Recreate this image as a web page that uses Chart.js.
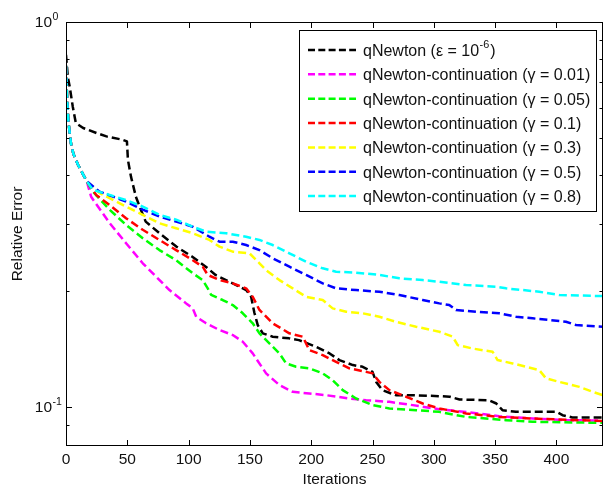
<!DOCTYPE html>
<html><head><meta charset="utf-8">
<script src="https://cdn.jsdelivr.net/npm/chart.js@4.4.0/dist/chart.umd.min.js"></script>
<style>html,body{margin:0;padding:0;background:#fff;}#wrap{width:604px;height:487px;position:relative}</style>
</head><body><div id="wrap"><canvas id="c"></canvas></div>
<script>
// ---- data (iterations, relative error) ----
const itBlack  = [0,1.5,3,5.5,8,14,25,33,46,49.7,50.5,53,57,61,65,76,90,103,114,122,136,147,151,153.7,156.4,160.5,168.6,182,190,204,215,223,234,242,250,253,258,269,283,304,313,321,345,351,356,367,400,405,413,438];
const errBlack = [0.822,0.72,0.68,0.604,0.547,0.531,0.515,0.505,0.495,0.49,0.439,0.397,0.352,0.326,0.3035,0.2836,0.2614,0.2461,0.2318,0.2207,0.2099,0.2016,0.1937,0.1758,0.1636,0.1557,0.1526,0.1511,0.1495,0.1437,0.1381,0.1327,0.1288,0.1275,0.1237,0.1165,0.1109,0.1076,0.1076,0.107,0.1066,0.1049,0.1044,0.1024,0.0984,0.0974,0.0974,0.0955,0.0942,0.0942];

const itMag  = [0,1,2,4,6,10,14,17,20.5,35.5,49,62.6,73.5,84.4,98,103.4,106.2,114.3,125.2,136,144.2,152.3,163.2,174.1,184.9,198.5,212.2,231.1,244.8,263.8,282.8,304.5,326.3,353.4,380.6,407.8,438];
const errMag = [0.77,0.62,0.55,0.485,0.455,0.425,0.402,0.386,0.352,0.301,0.2667,0.2366,0.2184,0.2016,0.1862,0.1807,0.1719,0.1653,0.1588,0.1541,0.1481,0.1381,0.1226,0.1143,0.1098,0.1087,0.1076,0.1055,0.1044,0.1034,0.1014,0.0989,0.0973,0.0949,0.0936,0.0927,0.0925];

const itGreen  = [0,1,2,4,6,10,14,17,21.9,35.5,49,62.6,76.2,89.8,103.4,111.5,115.6,118.4,127.8,136,144.2,152.3,157.8,165.9,174.1,179.5,187.7,198.5,209.4,217.5,225.7,236.6,250.1,263.8,285.5,304.5,326.3,358.9,380.6,438];
const errGreen = [0.77,0.62,0.55,0.485,0.455,0.425,0.402,0.386,0.363,0.326,0.2975,0.2748,0.256,0.241,0.2229,0.214,0.2037,0.1958,0.190,0.1844,0.1755,0.1653,0.1557,0.1466,0.1381,0.1301,0.1275,0.1263,0.1226,0.1177,0.1109,0.1055,0.1014,0.0994,0.0984,0.0974,0.0945,0.0927,0.0918,0.0912];

const itRed  = [0,1,2,4,6,10,14,17,24.6,35.5,49,62.6,76.2,89.8,103.4,111.5,115.6,125.2,136,146.9,152.3,157.8,168.6,182.2,193.1,198.5,209.4,220.3,231.1,244.8,250.1,255.6,263.8,277.4,290.9,304.5,326.3,353.4,380.6,438];
const errRed = [0.77,0.62,0.55,0.485,0.455,0.425,0.402,0.386,0.356,0.3354,0.3097,0.289,0.272,0.256,0.241,0.2318,0.2207,0.214,0.2099,0.2037,0.1937,0.179,0.1653,0.1557,0.1526,0.1408,0.1367,0.1313,0.1263,0.1237,0.1226,0.1165,0.1109,0.1066,0.1024,0.0994,0.0965,0.0945,0.0936,0.0922];

const itYellow  = [0,1,2,4,6,10,14,17,27.4,49,62.6,76.2,89.8,103.4,117,125.2,136,149.6,157.8,163.2,174.1,184.9,195.8,209.4,217.5,228.5,242,255.6,269.2,285.5,304.5,315.4,319.5,331.7,348,352,364.3,386,391.5,402.4,418.7,429.5,438];
const errYellow = [0.77,0.62,0.55,0.485,0.455,0.425,0.402,0.386,0.36,0.332,0.316,0.3005,0.2917,0.2831,0.272,0.2614,0.2536,0.2512,0.2366,0.227,0.214,0.2037,0.1937,0.190,0.1807,0.1771,0.1755,0.1719,0.1668,0.162,0.1572,0.1526,0.1451,0.1422,0.1394,0.1327,0.1301,0.125,0.119,0.1165,0.1131,0.1098,0.1076];

const itBlue  = [0,1,2,4,6,10,14,17,27.4,49,62.6,76.2,89.8,103.4,117,125.2,136,146.9,157.8,168.6,182.2,195.8,209.4,220.3,236.6,255.6,271.9,290.9,304.5,312.6,318.1,334.4,353.4,367.1,380.6,407.8,416,438];
const errBlue = [0.77,0.62,0.55,0.485,0.455,0.425,0.402,0.386,0.363,0.342,0.326,0.313,0.3035,0.2944,0.2773,0.2692,0.2692,0.2639,0.256,0.2438,0.2318,0.2207,0.2099,0.2037,0.2016,0.1996,0.1957,0.190,0.1862,0.1844,0.179,0.1771,0.1755,0.1719,0.1703,0.1668,0.1636,0.162];

const itCyan  = [0,1,2,4,6,10,14,17,21.9,35.5,49.1,62.6,76.2,89.8,103.4,114.3,130.6,146.9,157.8,168.6,182.2,195.8,209.4,220.3,236.6,255.6,271.9,290.9,304.5,326.3,350.8,358.9,386,402.4,438];
const errCyan = [0.77,0.62,0.55,0.485,0.455,0.425,0.402,0.386,0.367,0.356,0.345,0.332,0.316,0.307,0.2944,0.2858,0.2831,0.2773,0.272,0.2639,0.2512,0.2388,0.2296,0.225,0.2237,0.2207,0.2163,0.214,0.2119,0.2078,0.2057,0.2037,0.1996,0.1957,0.1945];

const seriesNames = ['qNewton (\u03b5 = 10', 'qNewton-continuation (\u03b3 = 0.01)', 'qNewton-continuation (\u03b3 = 0.05)', 'qNewton-continuation (\u03b3 = 0.1)', 'qNewton-continuation (\u03b3 = 0.3)', 'qNewton-continuation (\u03b3 = 0.5)', 'qNewton-continuation (\u03b3 = 0.8)'];
const xTicks = [0,50,100,150,200,250,300,350,400];
const yMajor = [{v:1, exp:'0'}, {v:0.1, exp:'-1'}];
const yMinor = [0.09,0.2,0.3,0.4,0.5,0.6,0.7,0.8,0.9];
const xLabel = 'Iterations';
const yLabel = 'Relative Error';

// ---- styling ----
const colors = ['#000000','#ff00ff','#00ff00','#ff0000','#ffff00','#0000ff','#00ffff'];
const FONT = '"Liberation Sans", Arial, Helvetica, sans-serif';
const FS = 15.5;
const LFS = 16;
const TXT = '#111';
const DASH = [8,4];

const its = [itBlack,itMag,itGreen,itRed,itYellow,itBlue,itCyan];
const errs = [errBlack,errMag,errGreen,errRed,errYellow,errBlue,errCyan];
const datasets = its.map((it,k)=>({
  label: seriesNames[k],
  data: it.map((x,i)=>({x:x, y:errs[k][i]})),
  borderColor: colors[k], backgroundColor: colors[k],
  borderWidth: 2.5, borderDash: DASH, pointRadius: 0, tension: 0, fill: false,
  borderCapStyle: 'butt', borderJoinStyle: 'round',
  order: 6-k
}));

const decor = {
  id: 'decor',
  afterDatasetsDraw(chart){
    const ctx = chart.ctx, a = chart.chartArea;
    const xs = chart.scales.x, ys = chart.scales.y;
    ctx.save();
    ctx.strokeStyle = '#000'; ctx.lineWidth = 1;
    ctx.strokeRect(a.left+0.5, a.top+0.5, a.right-a.left-1, a.bottom-a.top-1);
    ctx.beginPath();
    xTicks.forEach(t=>{
      const px = Math.round(xs.getPixelForValue(t))+0.5;
      ctx.moveTo(px, a.bottom); ctx.lineTo(px, a.bottom-6);
      ctx.moveTo(px, a.top); ctx.lineTo(px, a.top+6);
    });
    yMajor.forEach(t=>{
      const py = Math.round(ys.getPixelForValue(t.v))+0.5;
      ctx.moveTo(a.left, py); ctx.lineTo(a.left+6, py);
      ctx.moveTo(a.right, py); ctx.lineTo(a.right-6, py);
    });
    yMinor.forEach(v=>{
      const py = Math.round(ys.getPixelForValue(v))+0.5;
      ctx.moveTo(a.left, py); ctx.lineTo(a.left+3.5, py);
      ctx.moveTo(a.right, py); ctx.lineTo(a.right-3.5, py);
    });
    ctx.stroke();
    ctx.fillStyle = TXT;
    ctx.font = FS+'px '+FONT;
    ctx.textAlign = 'center'; ctx.textBaseline = 'alphabetic';
    xTicks.forEach(t=>{ ctx.fillText(String(t), xs.getPixelForValue(t), a.bottom+17.5); });
    yMajor.forEach(t=>{
      const py = ys.getPixelForValue(t.v);
      ctx.font = FS+'px '+FONT; ctx.textAlign = 'right';
      ctx.fillText('10', 52, py+4.5);
      ctx.font = (FS*0.68)+'px '+FONT; ctx.textAlign = 'left';
      ctx.fillText(t.exp, 52.5, py-2.5);
    });
    ctx.font = FS+'px '+FONT; ctx.textAlign = 'center';
    ctx.fillText(xLabel, (a.left+a.right)/2, 484);
    ctx.save();
    ctx.translate(21.5, (a.top+a.bottom)/2);
    ctx.rotate(-Math.PI/2);
    ctx.fillText(yLabel, 0, 0);
    ctx.restore();
    // legend
    const L = {x:299.5, y:30.5, w:297, h:181};
    ctx.fillStyle = '#fff';
    ctx.fillRect(L.x, L.y, L.w, L.h);
    ctx.strokeStyle = '#000'; ctx.lineWidth = 1;
    ctx.strokeRect(L.x, L.y, L.w, L.h);
    datasets.forEach((d,k)=>{
      const ry = 50 + k*24.35;
      ctx.save();
      ctx.strokeStyle = colors[k]; ctx.lineWidth = 2.5; ctx.setLineDash([7,3.3]);
      ctx.beginPath(); ctx.moveTo(308, ry); ctx.lineTo(356, ry); ctx.stroke();
      ctx.restore();
      ctx.fillStyle = TXT; ctx.font = LFS+'px '+FONT; ctx.textAlign = 'left'; ctx.textBaseline = 'alphabetic';
      const base = ry + 5.8;
      ctx.fillText(d.label, 363, base);
      if (k === 0) {
        let w = ctx.measureText(d.label).width;
        ctx.font = (LFS*0.68)+'px '+FONT;
        ctx.fillText('-6', 363+w+0.5, base-7.5);
        const w2 = ctx.measureText('-6').width;
        ctx.font = LFS+'px '+FONT;
        ctx.fillText(')', 363+w+w2+1.5, base);
      }
    });
    ctx.restore();
  }
};

new Chart(document.getElementById('c'), {
  type: 'line',
  data: { datasets },
  options: {
    responsive: true, maintainAspectRatio: false, animation: false,
    layout: { padding: { left: 66, top: 22, right: 1, bottom: 41 } },
    plugins: { legend: { display: false }, tooltip: { enabled: false } },
    scales: {
      x: { type: 'linear', min: 0, max: 438, display: false, bounds: 'data' },
      y: { type: 'logarithmic', min: Math.pow(10,-1.1), max: 1, display: false, bounds: 'data' }
    }
  },
  plugins: [decor]
});
</script></body></html>
